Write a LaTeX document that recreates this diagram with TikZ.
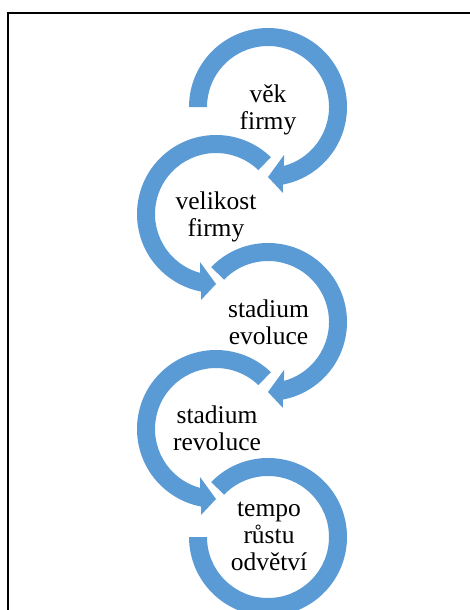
\documentclass[tikz,border=0pt]{standalone}
\usepackage{fontspec}
\setmainfont{Liberation Serif}
\definecolor{ringblue}{HTML}{5B9BD5}
\tikzset{
  ring/.style={fill=ringblue, draw=none},
  lbl/.style={align=center, inner sep=0pt, font=\fontsize{25.5}{27}\selectfont, text=black},
  frame/.style={draw=black, line width=1.6pt}
}
\begin{document}
\begin{tikzpicture}[x=1pt,y=1pt]
\useasboundingbox (0,0) rectangle (469,-610);
\fill[white] (0,0) rectangle (469,-610);
% frame (cropped on right and bottom)
\coordinate (fr1) at (475,-13);
\coordinate (fr2) at (8,-13);
\coordinate (fr3) at (8,-616);
\draw[frame] (fr1) -- (fr2) -- (fr3);
% ring 1 (clockwise, from left)
\begin{scope}[shift={(268,-107)}]
\fill[ring] (180:79) arc[start angle=180, end angle=-79.1, radius=79]
  -- (15,-86) -- (0,-70) -- (16,-48)
  -- (-74.8:61) arc[start angle=-74.8, end angle=180, radius=61] -- cycle;
\end{scope}
% ring 2 (counter-clockwise)
\begin{scope}[shift={(216,-214)}]
\fill[ring] (46:79) arc[start angle=46, end angle=259.1, radius=79]
  -- (-15,-86) -- (0,-70) -- (-16,-48)
  -- (254.8:61) arc[start angle=254.8, end angle=46, radius=61] -- cycle;
\end{scope}
% ring 3 (clockwise)
\begin{scope}[shift={(268,-322)}]
\fill[ring] (136:79) arc[start angle=136, end angle=-79.1, radius=79]
  -- (15,-86) -- (0,-70) -- (16,-48)
  -- (-74.8:61) arc[start angle=-74.8, end angle=136, radius=61] -- cycle;
\end{scope}
% ring 4 (counter-clockwise)
\begin{scope}[shift={(216,-429)}]
\fill[ring] (46:79) arc[start angle=46, end angle=259.1, radius=79]
  -- (-15,-86) -- (0,-70) -- (-16,-48)
  -- (254.8:61) arc[start angle=254.8, end angle=46, radius=61] -- cycle;
\end{scope}
% ring 5 (clockwise, no head)
\begin{scope}[shift={(268,-537)}]
\fill[ring] (136:79) arc[start angle=136, end angle=-180, radius=79]
  -- (-180:61) arc[start angle=-180, end angle=136, radius=61] -- cycle;
\end{scope}
% labels
\node[lbl] (t1) at (268,-109.5) {věk\\firmy};
\node[lbl] (t2) at (216,-216.5) {velikost\\firmy};
\node[lbl] (t3) at (268.5,-322) {stadium\\evoluce};
\node[lbl] (t4) at (217,-428) {stadium\\revoluce};
\node[lbl] (t5) at (269,-536.6) {tempo\\růstu\\odvětví};
\end{tikzpicture}
\end{document}
